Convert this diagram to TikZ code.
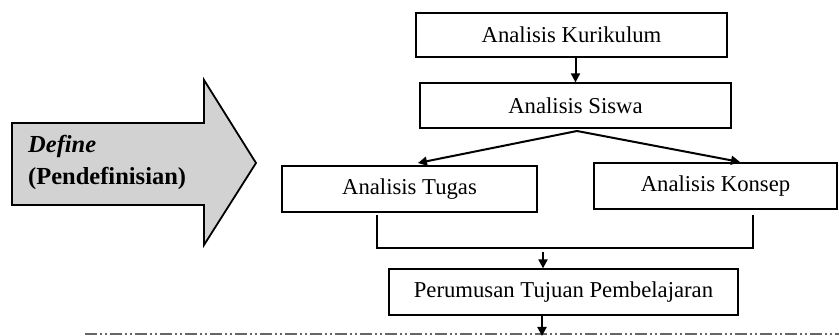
\documentclass[tikz,border=0pt]{standalone}
\usepackage{fontspec}
\setmainfont{Liberation Serif}
\usetikzlibrary{arrows.meta,calc}
\begin{document}
\begin{tikzpicture}[x=1pt,y=-1pt,
  box/.style={draw=black,line width=1.3pt,rectangle,inner sep=0pt,
    font=\fontsize{22.7}{26}\selectfont},
  conn/.style={line width=2pt,draw=black},
  arr/.style={conn,-{Triangle[length=9pt,width=9pt]}},
  bigarrow/.style={draw=black,line width=1.8pt,fill=gray!35,line join=miter},
  lbl/.style={anchor=base west,inner sep=0pt,font=\fontsize{24.5}{28}\selectfont\bfseries}
]
\useasboundingbox (0,0) rectangle (839,336);
% big arrow
\draw[bigarrow] (12,123) -- (204,123) -- (204,80) -- (256,163) -- (204,245) -- (204,205) -- (12,205) -- cycle;
\node[lbl] (def) at (28,153) {\itshape Define};
\node[lbl] (pend) at (28,185) {(Pendefinisian)};
% boxes
\node[box,minimum width=311pt,minimum height=44pt] (kur) at (571.5,35) {Analisis Kurikulum};
\node[box,minimum width=311pt,minimum height=45pt] (sis) at (575.5,105.5) {Analisis Siswa};
\node[box,minimum width=255pt,minimum height=46pt] (tug) at (409.5,189) {Analisis Tugas};
\node[box,minimum width=243pt,minimum height=46pt] (kon) at (715.5,186) {Analisis Konsep};
\node[box,minimum width=349pt,minimum height=46pt] (per) at (563.5,292) {Perumusan Tujuan Pembelajaran};
% connectors
\draw[arr] (sis.north |- kur.south) -- (sis.north);
\coordinate (br) at (577,131);
\coordinate (tl) at (418,163);
\coordinate (tr) at (740,162);
\draw[arr] (br) -- (tl);
\draw[arr] (br) -- (tr);
\coordinate (tb) at (377,215);
\coordinate (kb) at (753,215);
\coordinate (tj) at (377,248);
\coordinate (kj) at (753,248);
\draw[conn] (tb) -- (tj) -- (kj) -- (kb);
\coordinate (jm) at (543,252);
\draw[arr] (jm) -- (jm |- per.north);
\coordinate (pb) at (542,336);
% dashed line
\draw[gray!80!black,line width=2pt,dash pattern=on 12pt off 3pt on 2pt off 3pt on 2pt off 3pt] (85,334) -- (839,334);
\draw[arr] (per.south -| pb) -- (pb);
\end{tikzpicture}
\end{document}
